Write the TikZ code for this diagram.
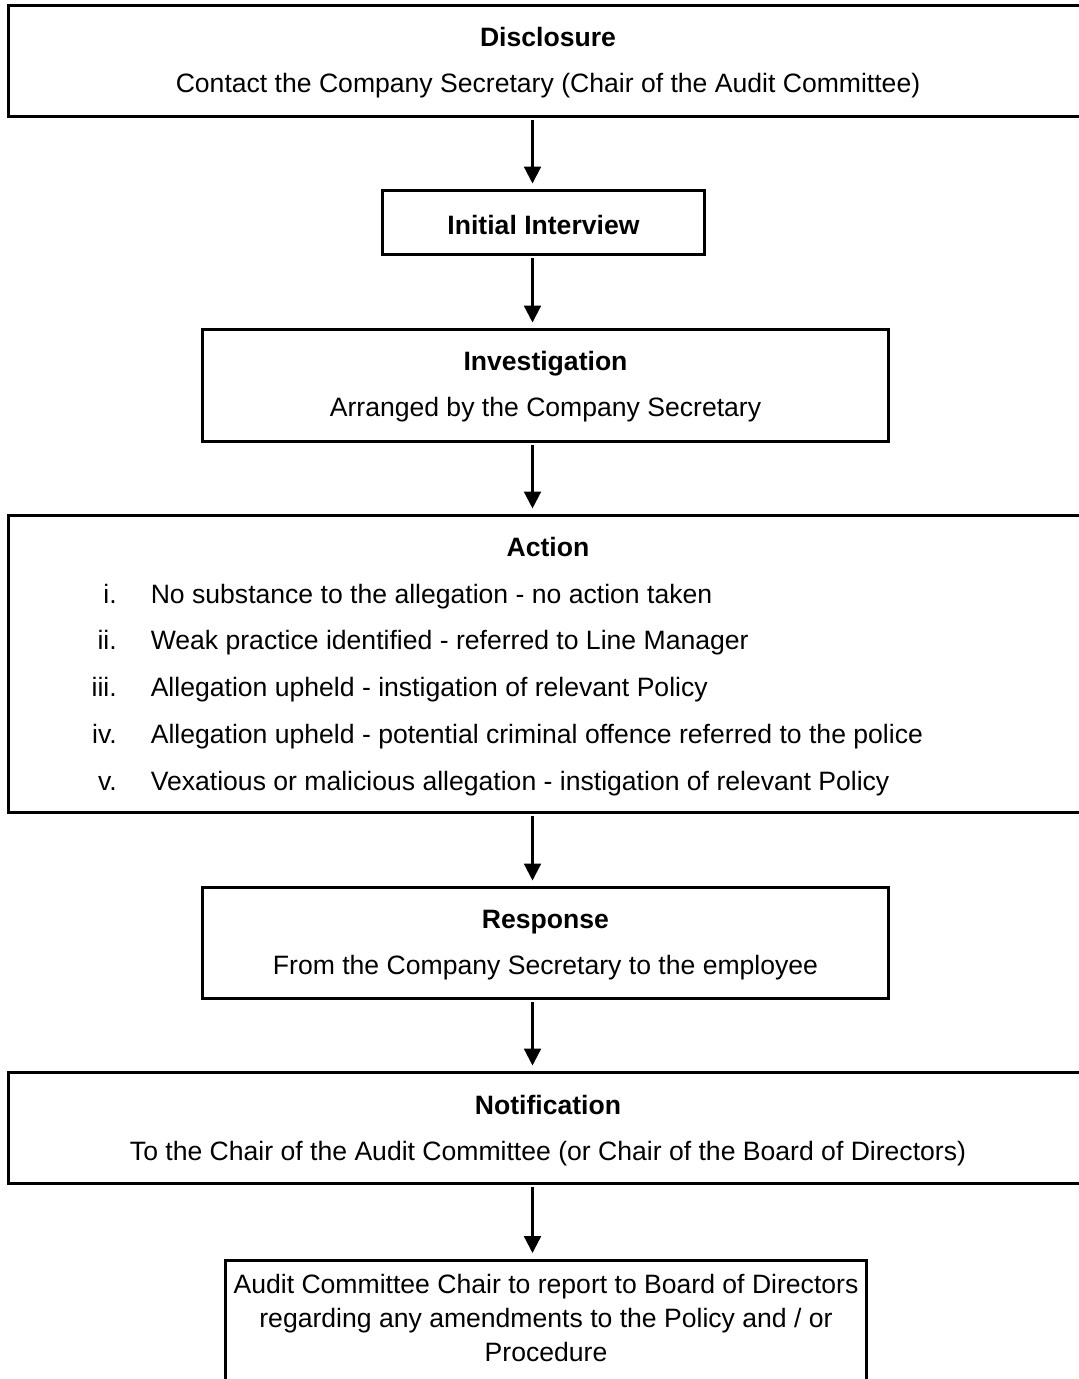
\documentclass[tikz,border=0pt]{standalone}
\usepackage{fontspec}
\setmainfont{Liberation Sans}[Ligatures=NoCommon]
\usetikzlibrary{arrows.meta}

\tikzset{
  box/.style={draw, line width=0.075cm, inner sep=0pt},
  txt/.style={inner sep=0pt, anchor=base, font=\fontsize{18.9}{33}\selectfont},
  flow/.style={line width=1.6pt, -{Triangle[width=0.42cm,length=0.42cm]},
    shorten <=0.06cm, shorten >=0.15cm}
}

\begin{document}
\begin{tikzpicture}[x=0.025cm, y=-0.025cm]

	\useasboundingbox (0,0) rectangle (1078,1379);
	\coordinate (ax) at (532.5,0);

	% boxes
	\node [box, minimum width=26.95cm, minimum height=2.75cm] (disc) at (548,61) {};
	\node [box, minimum width=8.05cm, minimum height=1.575cm] (intv) at (543.5,222.5) {};
	\node [box, minimum width=17.125cm, minimum height=2.775cm] (invs) at (545.5,385.5) {};
	\node [box, minimum width=26.95cm, minimum height=7.4cm] (actn) at (548,664) {};
	\node [box, minimum width=17.125cm, minimum height=2.75cm] (resp) at (545.5,943) {};
	\node [box, minimum width=26.95cm, minimum height=2.75cm] (noti) at (548,1128) {};
	\node [box, anchor=north, minimum width=16cm, minimum height=3.5cm] (rept) at (546,1259) {};

	% texts
	\node [txt] (disc-t) at (548,46.5) {\textbf{Disclosure}};
	\node [txt] (disc-s) at (548,92.5) {Contact the Company Secretary (Chair of the Audit Committee)};
	\node [txt] (intv-t) at (543.5,234.5) {\textbf{Initial Interview}};
	\node [txt] (invs-t) at (545.5,370) {\textbf{Investigation}};
	\node [txt] (invs-s) at (545.5,416.5) {Arranged by the Company Secretary};
	\node [txt] (actn-t) at (548,556.6) {\textbf{Action}};
	\node [txt, anchor=base west, font=\fontsize{18.9}{33.2}\selectfont] (actn-l) at (91.4,603.3)
		{\begin{tabular}[t]{@{}r@{\hspace{0.85cm}}l@{}}
			i. & No substance to the allegation - no action taken\\
			ii. & Weak practice identified - referred to Line Manager\\
			iii. & Allegation upheld - instigation of relevant Policy\\
			iv. & Allegation upheld - potential criminal offence referred to the police\\
			v. & Vexatious or malicious allegation - instigation of relevant Policy
		\end{tabular}};
	\node [txt] (resp-t) at (545.5,928) {\textbf{Response}};
	\node [txt] (resp-s) at (545.5,974) {From the Company Secretary to the employee};
	\node [txt] (noti-t) at (548,1114) {\textbf{Notification}};
	\node [txt] (noti-s) at (548,1160.5) {To the Chair of the Audit Committee (or Chair of the Board of Directors)};
	\node [txt, anchor=north, align=center, font=\fontsize{18.9}{24.2}\selectfont] (rept-t) at (546,1273.6)
		{Audit Committee Chair to report to Board of Directors\\regarding any amendments to the Policy and / or\\Procedure};

	% arrows
	\draw [flow] (disc.south -| ax) -- (intv.north -| ax);
	\draw [flow] (intv.south -| ax) -- (invs.north -| ax);
	\draw [flow] (invs.south -| ax) -- (actn.north -| ax);
	\draw [flow] (actn.south -| ax) -- (resp.north -| ax);
	\draw [flow] (resp.south -| ax) -- (noti.north -| ax);
	\draw [flow] (noti.south -| ax) -- (rept.north -| ax);

\end{tikzpicture}
\end{document}
